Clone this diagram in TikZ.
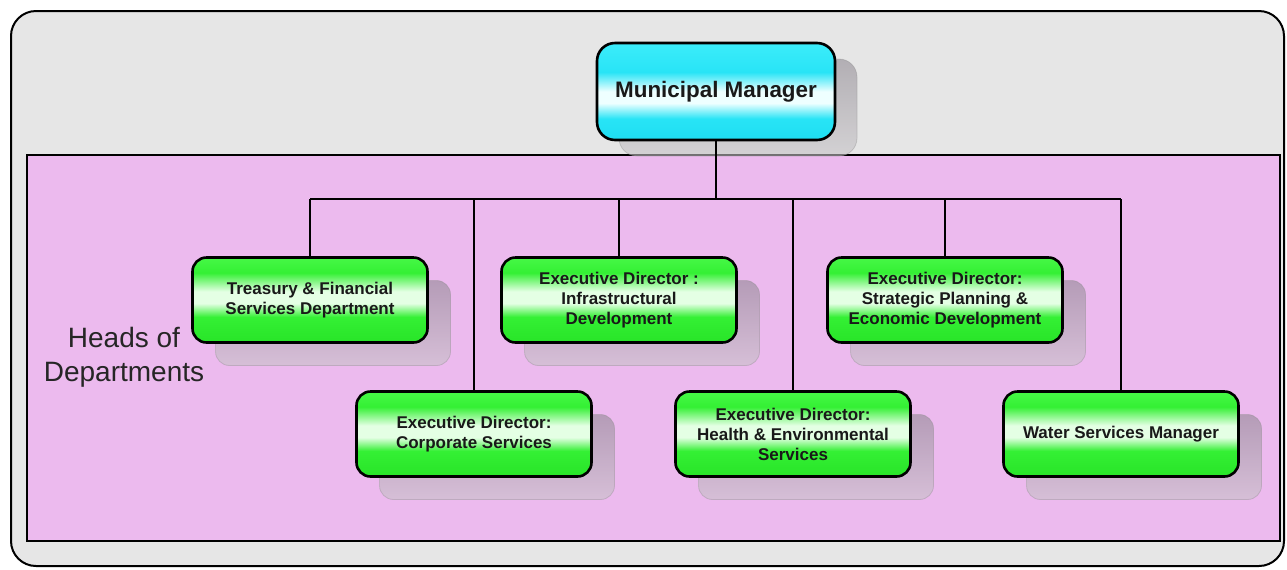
\documentclass[tikz,border=0pt]{standalone}
\usepackage{fontspec}
\setmainfont{Liberation Sans}
\usepackage{tikz}
\usetikzlibrary{positioning,shadows}
\definecolor{framegray}{RGB}{230,230,230}
\definecolor{headpink}{RGB}{236,186,238}
\definecolor{gtop}{RGB}{70,248,70}
\definecolor{gbase}{RGB}{52,240,52}
\definecolor{glight}{RGB}{228,255,228}
\definecolor{gdark}{RGB}{40,228,40}
\definecolor{ctop}{RGB}{60,236,250}
\definecolor{cbase}{RGB}{40,228,246}
\definecolor{clight}{RGB}{238,255,255}
\definecolor{cdark}{RGB}{30,222,242}
\definecolor{shtop}{RGB}{150,140,155}
\definecolor{shbot}{RGB}{245,240,246}
\pgfdeclareverticalshading{greenbox}{100bp}{color(0bp)=(gdark); color(25bp)=(gdark);
  color(40bp)=(gbase); color(48bp)=(glight); color(55bp)=(glight); color(66bp)=(gbase);
  color(75bp)=(gtop); color(100bp)=(gtop)}
\pgfdeclareverticalshading{cyanbox}{100bp}{color(0bp)=(cdark); color(25bp)=(cdark);
  color(36bp)=(cbase); color(44bp)=(clight); color(50bp)=(clight); color(60bp)=(cbase);
  color(75bp)=(ctop); color(100bp)=(ctop)}
\pgfdeclareverticalshading{shadowgrad}{100bp}{color(0bp)=(shbot); color(25bp)=(shbot);
  color(75bp)=(shtop); color(100bp)=(shtop)}

\begin{document}
\begin{tikzpicture}[x=0.5pt,y=-0.5pt,
    boxshadow/.style={drop shadow={shadow xshift=11.5pt,shadow yshift=-11.5pt,
        shade,shading=shadowgrad,draw=black!45,line width=0.4pt,opacity=.35}},
    head node/.style={draw,line width=1.3pt,rounded corners=9pt,shading=cyanbox,
        minimum width=119pt,minimum height=48.5pt,
        drop shadow={shadow xshift=11pt,shadow yshift=-8pt,
        shade,shading=shadowgrad,draw=black!45,line width=0.4pt,opacity=.35},
        font=\bfseries\fontsize{11.2}{13}\selectfont,text=black!90},
    dept node/.style={draw,line width=1.3pt,rounded corners=7pt,shading=greenbox,
        minimum width=117.5pt,minimum height=42.5pt,align=center,boxshadow,
        font=\bfseries\fontsize{8.5}{10}\selectfont,text=black!90},
    link/.style={line width=1pt}]

  \useasboundingbox (0,0) rectangle (1287,569);
  \draw[fill=framegray,line width=1pt,rounded corners=12.5pt] (11,11) rectangle (1284,566);
  \draw[fill=headpink,line width=0.6pt] (27,155) rectangle (1280,541);

  \node[align=center,text=black!85,font=\fontsize{14}{17}\selectfont] (hods) at (124,357)
    {Heads of\\Departments};

  \node[head node] (mm) at (716,91.5) {Municipal Manager};

  % top row
  \node[dept node] (treas) at (310,300) {Treasury \& Financial\\Services Department};
  \node[dept node] (infra) at (619,300) {Executive Director :\\Infrastructural\\Development};
  \node[dept node] (strat) at (945,300) {Executive Director:\\Strategic Planning \&\\Economic Development};
  % bottom row
  \node[dept node] (corp) at (474,434) {Executive Director:\\Corporate Services};
  \node[dept node] (health) at (793,434) {Executive Director:\\Health \& Environmental\\Services};
  \node[dept node] (water) at (1121,434) {Water Services Manager};

  \coordinate (hub) at (mm.south |- 0,199);
  \draw[link] (mm) -- (hub);
  \draw[link] (treas.north |- hub) -- (water.north |- hub);
  \foreach \d in {treas,corp,infra,health,strat,water}
    \draw[link] (\d.north) -- (\d.north |- hub);
\end{tikzpicture}
\end{document}
